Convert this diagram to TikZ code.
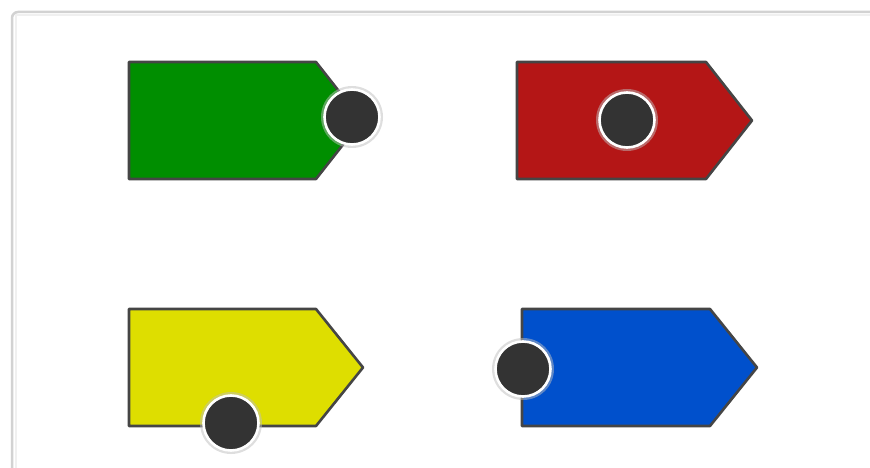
\documentclass[tikz,border=0pt]{standalone}
\usetikzlibrary{positioning}
\definecolor{tagGreen}{HTML}{008E00}
\definecolor{tagRed}{HTML}{B41616}
\definecolor{tagYellow}{HTML}{DEDE00}
\definecolor{tagBlue}{HTML}{0050CC}
\definecolor{edgeGray}{HTML}{454545}
\definecolor{dotDark}{HTML}{333333}
\definecolor{frameGray}{HTML}{D2D2D2}
\begin{document}
\begin{tikzpicture}[x=1pt,y=-1pt,
  tagshape/.style={draw=edgeGray,line width=2.6pt,line join=round},
  dotmark/.style={circle,fill=dotDark,draw=white,line width=2.6pt,minimum size=55pt,inner sep=0pt},
  dothalo/.style={circle,fill=black!25,opacity=0.5,minimum size=62pt,inner sep=0pt},
]
\useasboundingbox (0,0) rectangle (870,468);
\fill[white] (0,0) rectangle (870,468);
% frame
\draw[frameGray,line width=2.5pt,rounded corners=6pt] (880,12) -- (12,12) -- (12,480);
\draw[black!6,line width=2pt] (880,15.5) -- (15.5,15.5) -- (15.5,480);
% tags
\draw[tagshape,fill=tagGreen] (129,62) -- (316,62) -- (362,120.5) -- (316,179) -- (129,179) -- cycle;
\draw[tagshape,fill=tagRed] (517,62) -- (706,62) -- (752,120.5) -- (706,179) -- (517,179) -- cycle;
\draw[tagshape,fill=tagYellow] (129,309) -- (316,309) -- (363,367.5) -- (316,426) -- (129,426) -- cycle;
\draw[tagshape,fill=tagBlue] (522,309) -- (710,309) -- (757,367.5) -- (710,426) -- (522,426) -- cycle;
% dots
\node[dothalo] at (352,117) {};
\node[dotmark] (g) at (352,117) {};
\node[dothalo] at (627,120) {};
\node[dotmark] (r) at (627,120) {};
\node[dothalo] at (231,423) {};
\node[dotmark] (y) at (231,423) {};
\node[dothalo] at (523,369) {};
\node[dotmark] (b) at (523,369) {};
\end{tikzpicture}
\end{document}
